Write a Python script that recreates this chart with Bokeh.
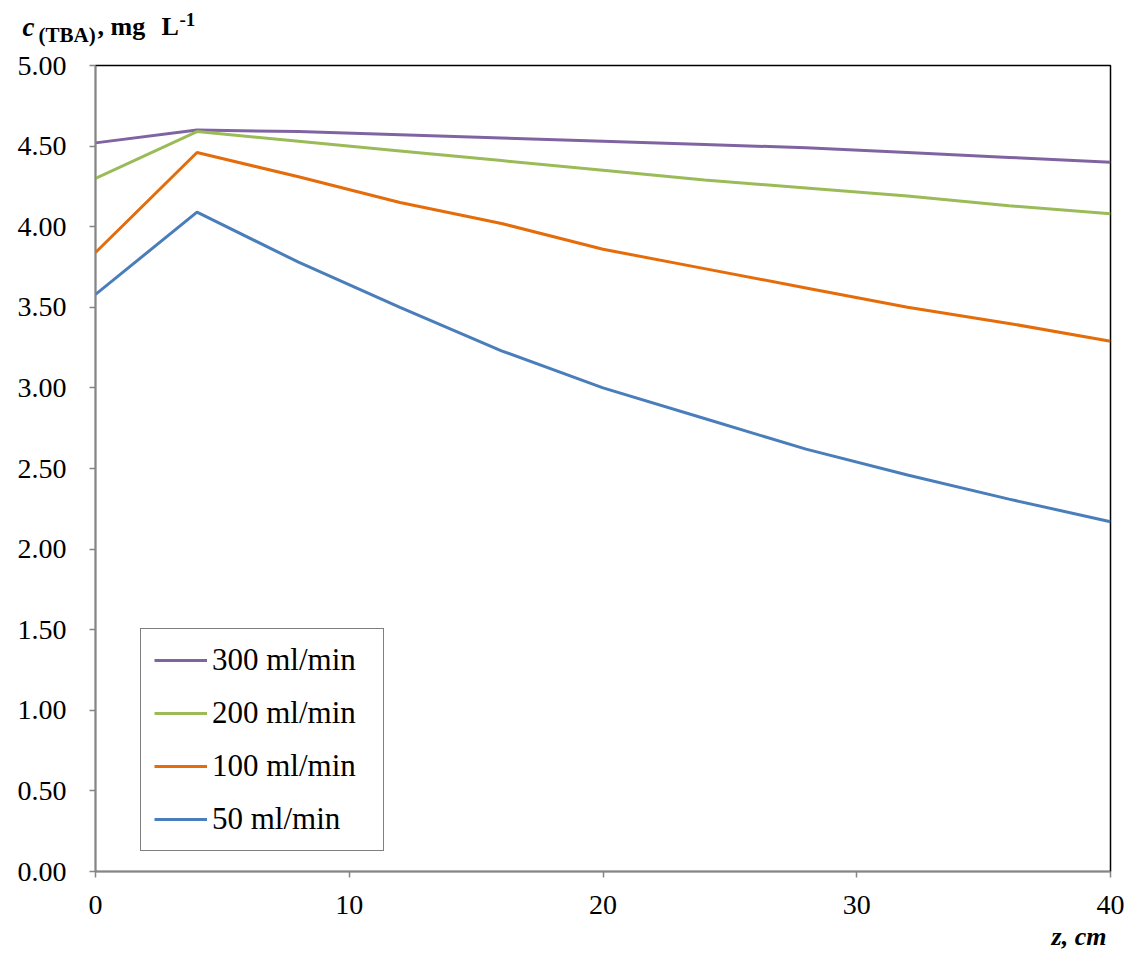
from bokeh.plotting import figure
from bokeh.layouts import column
from bokeh.models import Range1d, FixedTicker, NumeralTickFormatter, Legend, LegendItem, ColumnDataSource, Plot
from bokeh.core.properties import value
from bokeh.embed import file_html
from bokeh.resources import INLINE

# ---- data ----
z_cm = [0, 4, 8, 12, 16, 20, 24, 28, 32, 36, 40]
c_300 = [4.52, 4.60, 4.59, 4.57, 4.55, 4.53, 4.51, 4.49, 4.46, 4.43, 4.40]
c_200 = [4.30, 4.59, 4.53, 4.47, 4.41, 4.35, 4.29, 4.24, 4.19, 4.13, 4.08]
c_100 = [3.84, 4.46, 4.31, 4.15, 4.02, 3.86, 3.74, 3.62, 3.50, 3.40, 3.29]
c_50 = [3.58, 4.09, 3.78, 3.50, 3.23, 3.00, 2.81, 2.62, 2.46, 2.31, 2.17]
series_labels = ["300 ml/min", "200 ml/min", "100 ml/min", "50 ml/min"]
series_colors = ["#8064A2", "#9BBB59", "#E46C0A", "#4A7EBB"]
x_ticks = [0, 10, 20, 30, 40]
y_ticks = [0, 0.5, 1, 1.5, 2, 2.5, 3, 3.5, 4, 4.5, 5]
y_title_parts = ["c", "(TBA)", ", mg", "L", "-1"]
x_title = "z, cm"

FONT = "Liberation Serif"
W = 1136
H1, H2, H3 = 50, 872, 31
BL, BR, BT = 95, 26, 15
FRAME_H = 806
BB = H2 - BT - FRAME_H
HAS_FRAME_ALIGN = "frame_align" in Plot.properties()


def text_strip(height, xs, ys, texts, sizes, styles, aligns):
    f = figure(width=W, height=height, output_backend="svg", toolbar_location=None,
               title=None,
               x_range=Range1d(0, W), y_range=Range1d(height, 0),
               min_border=0, min_border_left=0, min_border_right=0,
               min_border_top=0, min_border_bottom=0,
               x_axis_type=None, y_axis_type=None)
    if HAS_FRAME_ALIGN:
        f.frame_align = False
    f.grid.visible = False
    f.outline_line_color = None
    src = ColumnDataSource(dict(x=xs, y=ys, text=texts, size=sizes, style=styles, align=aligns))
    f.text(x="x", y="y", text="text", source=src, text_font=value(FONT),
           text_font_size="size", text_font_style="style", text_align="align",
           text_baseline="alphabetic", text_color="black")
    return f


# header: y-axis title  c_(TBA), mg L^-1
header = text_strip(H1, [22, 38, 97, 161, 179], [26, 34, 26, 26, 19], y_title_parts,
                    ["27px", "21px", "26px", "26px", "19px"],
                    ["bold italic", "bold", "bold", "bold", "bold"],
                    ["left"] * 5)

p = figure(width=W, height=H2, output_backend="svg", toolbar_location=None, title=None,
           x_range=Range1d(0, 40), y_range=Range1d(0, 5),
           min_border_left=BL, min_border_right=BR, min_border_top=BT, min_border_bottom=BB)
if HAS_FRAME_ALIGN:
    p.frame_align = False
p.xgrid.visible = False
p.ygrid.visible = False
p.outline_line_color = "black"
p.outline_line_width = 1.5

for ax, ticks in ((p.xaxis[0], x_ticks), (p.yaxis[0], y_ticks)):
    ax.ticker = FixedTicker(ticks=ticks)
    ax.axis_line_color = "#868686"
    ax.axis_line_width = 1.5
    ax.major_tick_line_color = "#868686"
    ax.major_tick_line_width = 1.5
    ax.major_tick_out = 6
    ax.major_tick_in = 0
    ax.minor_tick_line_color = None
    ax.major_label_text_font = FONT
    ax.major_label_text_font_size = "28px"
    ax.major_label_text_color = "black"
p.yaxis[0].formatter = NumeralTickFormatter(format="0.00")
p.xaxis[0].major_label_standoff = 18
p.yaxis[0].major_label_standoff = 23

renderers = []
for ys, col in zip([c_300, c_200, c_100, c_50], series_colors):
    renderers.append(p.line(z_cm, ys, line_color=col, line_width=3))

legend = Legend(items=[LegendItem(label=l, renderers=[r]) for l, r in zip(series_labels, renderers)],
                location=(45, 20), orientation="vertical",
                label_text_font=FONT, label_text_font_size="31px", label_text_color="black",
                glyph_width=53, glyph_height=30, label_height=30, label_width=158, label_standoff=5,
                spacing=17, padding=13, margin=0,
                border_line_color="black", border_line_width=1.5,
                background_fill_color="white", background_fill_alpha=1.0)
p.add_layout(legend, "center")

# footer: x-axis title
footer = text_strip(H3, [1106], [14], [x_title], ["26px"], ["bold italic"], ["right"])

layout = column(header, p, footer, spacing=0)
open("out.html", "w").write(file_html(layout, INLINE))
